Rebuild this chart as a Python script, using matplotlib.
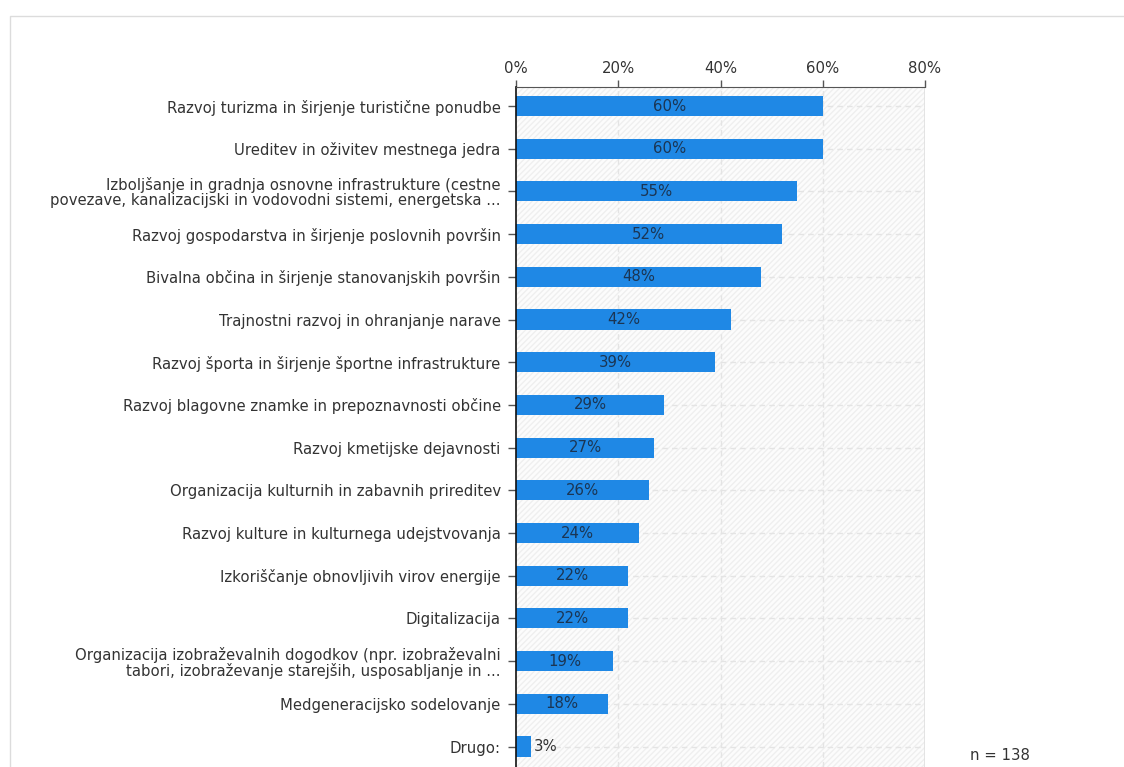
import numpy as np
import matplotlib.pyplot as plt
from matplotlib.patches import Rectangle

plt.rcParams['font.family'] = ['DejaVu Sans']

# podatki ankete
categories = [
    'Razvoj turizma in širjenje turistične ponudbe',
    'Ureditev in oživitev mestnega jedra',
    'Izboljšanje in gradnja osnovne infrastrukture (cestne\npovezave, kanalizacijski in vodovodni sistemi, energetska ...',
    'Razvoj gospodarstva in širjenje poslovnih površin',
    'Bivalna občina in širjenje stanovanjskih površin',
    'Trajnostni razvoj in ohranjanje narave',
    'Razvoj športa in širjenje športne infrastrukture',
    'Razvoj blagovne znamke in prepoznavnosti občine',
    'Razvoj kmetijske dejavnosti',
    'Organizacija kulturnih in zabavnih prireditev',
    'Razvoj kulture in kulturnega udejstvovanja',
    'Izkoriščanje obnovljivih virov energije',
    'Digitalizacija',
    'Organizacija izobraževalnih dogodkov (npr. izobraževalni\ntabori, izobraževanje starejših, usposabljanje in ...',
    'Medgeneracijsko sodelovanje',
    'Drugo:',
]
values = [60, 60, 55, 52, 48, 42, 39, 29, 27, 26, 24, 22, 22, 19, 18, 3]
xticks = [0, 20, 40, 60, 80]
n_resp = 138

W, H = 1124, 767
FS = 10.7
fig = plt.figure(figsize=(W / 100, H / 100), dpi=100, facecolor='white')

# okvir kartice
fig.patches.append(Rectangle((10 / W, -0.1), 1.2, 1 - 16 / H + 0.1, transform=fig.transFigure,
                             facecolor='none', edgecolor='#dcdcdc', lw=1, zorder=0))

ax = fig.add_axes([516 / W, 0, (925 - 516) / W, 1 - 87 / H])
ax.set_facecolor('#fcfcfc')

y = np.arange(len(categories))
ax.set_xlim(0, 80)
ax.set_ylim(15.48, -0.445)

# rahlo šrafirano ozadje
ax.add_patch(Rectangle((0, -1), 80, 20, facecolor='none', edgecolor='#efefef',
                       hatch='//////', lw=0, zorder=0))

for yi in y:
    ax.axhline(yi, color='#e4e4e4', lw=1, ls=(0, (4, 3)), zorder=1)
for xv in xticks[1:-1]:
    ax.axvline(xv, color='#e4e4e4', lw=1, ls=(0, (4, 3)), zorder=1)
ax.axvline(80, color='#e0e0e0', lw=1.2, zorder=1)

ax.barh(y, values, height=0.47, color='#1f88e5', edgecolor='none', zorder=2)

for yi, v in zip(y, values):
    if v >= 10:
        ax.text(v / 2, yi, f'{v}%', ha='center', va='center', fontsize=FS,
                color='#1b3553', zorder=3)
    else:
        ax.text(v + 0.5, yi, f'{v}%', ha='left', va='center', fontsize=FS,
                color='#333333', zorder=3)

ax.xaxis.tick_top()
ax.set_xticks(xticks)
ax.set_xticklabels([f'{t}%' for t in xticks], fontsize=FS, color='#333333')
ax.tick_params(axis='x', length=5, width=1, color='#555555', pad=3)

ax.set_yticks(y)
ax.set_yticklabels(categories, fontsize=FS, color='#333333', linespacing=1.0)
ax.tick_params(axis='y', length=6, width=1, color='#555555', pad=5)

for side in ['right', 'bottom']:
    ax.spines[side].set_visible(False)
ax.spines['top'].set_color('#555555')
ax.spines['left'].set_color('#111111')
ax.spines['left'].set_linewidth(1.2)

fig.text(970 / W, 1 - 756 / H, f'n = {n_resp}', fontsize=FS, color='#333333',
         ha='left', va='center')

fig.savefig('out.png', dpi=100, facecolor='white')
